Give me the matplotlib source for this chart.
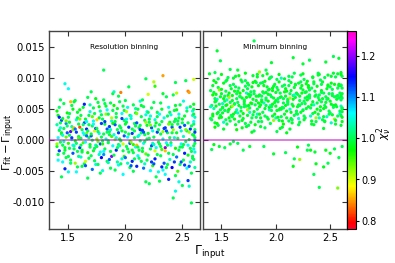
import numpy as np
import matplotlib
matplotlib.use('Agg')
import matplotlib.pyplot as plt

# Resolution binning: x in units of 0.01, dy in units of 1e-4, chi2 in units of 0.01
res_x = [
    143, 141, 144, 140, 142, 144, 141, 143, 140, 142, 141, 144, 140, 143, 142, 140, 143, 141, 144, 142,
    147, 150, 145, 148, 146, 146, 148, 145, 149, 147, 148, 145, 147, 149, 146, 149, 147, 145, 148, 146,
    154, 150, 153, 152, 151, 153, 150, 151, 154, 152, 150, 153, 151, 152, 154, 151, 154, 153, 150, 152,
    156, 158, 157, 159, 155, 157, 159, 156, 155, 158, 159, 156, 158, 155, 157, 158, 156, 157, 159, 155,
    163, 161, 164, 160, 162, 164, 161, 163, 160, 162, 161, 164, 160, 163, 162, 160, 163, 161, 164, 162,
    167, 169, 165, 168, 166, 166, 168, 165, 169, 167, 168, 165, 167, 169, 166, 169, 167, 165, 168, 166,
    174, 170, 173, 172, 171, 173, 170, 171, 174, 172, 170, 173, 171, 172, 174, 171, 174, 173, 170, 172,
    176, 178, 177, 179, 175, 177, 179, 176, 175, 178, 179, 176, 178, 175, 177, 178, 176, 177, 179, 175,
    181, 181, 184, 180, 182, 184, 181, 183, 180, 182, 181, 184, 180, 183, 182, 180, 183, 181, 184, 182,
    187, 189, 185, 188, 186, 186, 188, 185, 189, 187, 188, 185, 187, 189, 186, 189, 187, 185, 188, 186,
    194, 190, 193, 192, 191, 193, 190, 191, 194, 192, 190, 193, 191, 192, 194, 191, 194, 193, 190, 192,
    196, 198, 197, 199, 195, 197, 199, 196, 195, 198, 199, 196, 198, 195, 197, 198, 196, 197, 199, 195,
    200, 202, 204, 201, 203, 200, 202, 204, 201, 203, 200, 202, 204, 201, 203, 202, 200, 204, 201, 203,
    207, 209, 205, 208, 206, 206, 208, 205, 209, 207, 208, 205, 207, 209, 206, 209, 207, 205, 208, 206,
    213, 211, 214, 210, 212, 214, 211, 213, 210, 212, 211, 214, 210, 213, 212, 210, 213, 211, 214, 212,
    216, 218, 217, 219, 215, 217, 219, 216, 215, 218, 219, 216, 218, 215, 217, 218, 216, 217, 219, 215,
    218, 220, 223, 222, 221, 223, 220, 221, 224, 222, 220, 223, 221, 222, 224, 221, 224, 223, 220, 222,
    225, 226, 225, 228, 226, 226, 228, 225, 229, 227, 228, 225, 227, 229, 226, 229, 227, 225, 228, 226,
    233, 231, 233, 230, 232, 234, 231, 233, 230, 232, 231, 234, 230, 233, 232, 230, 233, 231, 234, 232,
    236, 238, 237, 239, 235, 237, 239, 236, 235, 238, 239, 236, 238, 235, 237, 238, 236, 237, 239, 235,
    242, 244, 240, 243, 241, 241, 243, 240, 244, 242, 243, 242, 244, 244, 241, 244, 242, 240, 243, 241,
    244, 245, 248, 247, 246, 248, 245, 246, 249, 247, 245, 248, 246, 247, 249, 246, 249, 248, 245, 247,
    253, 251, 254, 250, 252, 254, 251, 253, 250, 252, 251, 254, 250, 256, 252, 250, 253, 251, 254, 252,
    255, 256, 257, 259, 255, 257, 259, 256, 255, 258, 259, 256, 258, 255, 257, 258, 256, 257, 259, 255,
    260, 260, 261, 260, 261, 260, 261, 260, 261, 260, 258, 261, 260, 261, 260, 261, 259, 260, 261, 260,
]
res_dy = [
    64, 39, 31, 24, 15, 9, 3, -4, -11, -18, -24, -60, 46, 19, 52, -7, 27, -33, 11, 36,
    90, 82, 34, 26, 18, -3, 4, -9, 11, -17, -29, -36, -47, 43, 58, 22, -13, 7, 30, -22,
    49, 36, 21, 13, 7, 0, -6, -14, -22, -33, -52, 55, 28, -38, 16, 42, -9, 3, -27, 61,
    63, 44, 32, 25, 19, 12, 5, -2, -10, -19, -27, -38, -44, 61, -52, 35, 17, -6, 2, -15,
    52, 39, 27, 20, 16, 8, 2, -5, -13, -20, -28, -39, 48, 11, -43, 33, 24, -9, 57, -17,
    68, 45, 33, 24, 17, 10, 3, -4, -12, -21, -30, -42, -62, 56, 29, -8, 14, -35, 39, 6,
    66, 77, 42, 30, 22, 14, 6, -1, -9, -18, -26, -34, -48, 51, -40, 37, 18, -14, 9, 25,
    60, 46, 35, 26, 18, 10, 4, -3, -11, -20, -29, -40, -54, 32, 53, -7, 13, -24, 40, 1,
    112, 64, 48, 33, 25, 17, 9, 1, -7, -15, -24, -35, -50, 54, 29, -2, 41, -19, 12, 58,
    59, 74, 41, 30, 21, 13, 5, -2, -10, -19, -27, -37, -46, 26, -32, 47, 16, -5, 35, 8,
    70, 77, 50, 36, 24, 16, 8, 0, -8, -17, -25, -36, -49, 42, -41, 29, 11, -13, 55, 3,
    76, 54, 42, 31, 22, 14, 6, -2, -10, -18, -27, -39, -56, 61, 34, -7, 19, -31, 47, 1,
    63, 52, 39, 28, 20, 12, 4, -3, -11, -20, -29, -38, -45, 45, 85, -15, 25, -6, 33, 9,
    56, 43, 34, 26, 17, 10, 3, -4, -12, -21, -31, -42, -51, 50, -35, 22, -8, 38, 14, -17,
    62, 49, 37, 27, 19, 11, 5, -2, -9, -17, -26, -35, -43, 23, -30, 42, 16, -12, 55, 7,
    53, 40, 31, 23, 15, 8, 1, -6, -14, -23, -33, -46, -68, 64, -39, 28, 12, -3, 45, -19,
    98, 73, 51, 38, 28, 19, 10, 2, -6, -15, -25, -36, -71, -50, -42, 33, 14, -10, 44, 23,
    93, 86, 60, 44, 32, 22, 12, 4, -4, -13, -24, -39, -60, -52, -31, 16, 27, -8, 37, -18,
    74, 59, 103, 41, 29, 18, 9, 1, -7, -16, -26, -38, -67, -49, -44, 24, 13, -11, 35, 49,
    69, 52, 38, 28, 19, 11, 3, -5, -13, -22, -32, -45, -64, -56, -40, 25, 14, -9, 44, -18,
    72, 55, 40, 29, 20, 11, 3, -5, -14, -24, -36, -94, -83, -58, -45, 33, 16, -9, 47, 24,
    92, 75, 56, 41, 30, 20, 11, 2, -7, -17, -28, -40, -51, -68, -36, 25, 14, -12, 48, 35,
    95, 62, 46, 33, 23, 14, 5, -3, -12, -22, -33, -46, -74, -75, -41, 27, 16, -8, 51, 38,
    78, 76, 53, 39, 27, 17, 8, 0, -9, -19, -30, -43, -54, -66, -36, 22, 12, -14, 46, -25,
    97, 49, 36, 25, 16, 7, -1, -10, -20, -32, -102, -45, 57, -6, 29, 12, -27, 41, 3, -15,
]
res_chi = [
    100, 98, 112, 103, 100, 95, 106, 100, 99, 113, 100, 100, 97, 105, 101, 92, 100, 106, 99, 114,
    105, 106, 99, 110, 100, 104, 94, 100, 112, 99, 100, 106, 114, 97, 100, 101, 99, 105, 93, 100,
    98, 100, 103, 118, 100, 105, 96, 100, 112, 100, 105, 100, 99, 101, 93, 100, 106, 113, 100, 86,
    100, 99, 105, 100, 86, 113, 100, 97, 104, 100, 102, 92, 100, 99, 106, 100, 111, 101, 95, 100,
    99, 100, 112, 82, 100, 105, 100, 95, 113, 100, 104, 100, 98, 106, 100, 93, 101, 100, 114, 99,
    100, 105, 99, 100, 114, 93, 100, 106, 100, 97, 100, 112, 100, 103, 106, 99, 100, 90, 100, 111,
    98, 100, 100, 106, 100, 90, 112, 100, 104, 99, 100, 100, 111, 100, 105, 94, 113, 100, 99, 106,
    100, 103, 99, 113, 100, 105, 100, 94, 100, 106, 115, 100, 100, 87, 98, 112, 100, 104, 100, 93,
    100, 100, 106, 100, 99, 112, 100, 104, 96, 100, 110, 100, 105, 99, 113, 100, 92, 106, 100, 100,
    100, 99, 100, 105, 113, 100, 95, 100, 106, 100, 120, 103, 100, 97, 112, 100, 104, 100, 91, 100,
    100, 104, 99, 100, 112, 100, 105, 92, 100, 114, 100, 103, 100, 100, 106, 99, 113, 100, 97, 105,
    84, 100, 106, 100, 100, 99, 112, 100, 104, 100, 96, 100, 106, 100, 113, 90, 100, 105, 100, 99,
    100, 105, 100, 99, 113, 100, 106, 95, 100, 100, 111, 104, 100, 91, 100, 100, 99, 112, 106, 100,
    100, 99, 104, 100, 100, 113, 100, 93, 106, 100, 100, 112, 100, 103, 114, 100, 96, 105, 100, 99,
    105, 100, 100, 112, 99, 100, 104, 100, 86, 100, 106, 100, 114, 100, 101, 93, 113, 100, 99, 105,
    100, 105, 100, 99, 113, 100, 100, 106, 100, 94, 100, 111, 100, 100, 104, 92, 112, 100, 106, 99,
    100, 90, 100, 105, 100, 112, 99, 100, 104, 100, 100, 113, 100, 106, 96, 100, 105, 112, 100, 93,
    91, 96, 100, 100, 105, 100, 113, 100, 99, 106, 100, 112, 100, 105, 114, 100, 98, 104, 100, 90,
    99, 100, 85, 106, 100, 113, 100, 104, 100, 95, 100, 112, 100, 106, 114, 100, 92, 100, 105, 99,
    100, 105, 100, 99, 113, 100, 100, 106, 120, 100, 104, 100, 114, 106, 100, 93, 112, 100, 100, 86,
    100, 99, 105, 100, 112, 100, 104, 100, 97, 100, 113, 100, 105, 100, 115, 100, 92, 106, 100, 99,
    100, 91, 100, 105, 100, 113, 99, 100, 106, 100, 111, 100, 95, 105, 112, 100, 104, 100, 98, 100,
    100, 105, 100, 99, 112, 100, 104, 100, 100, 114, 100, 106, 100, 104, 113, 100, 93, 100, 105, 99,
    84, 85, 100, 105, 100, 113, 100, 99, 106, 100, 100, 112, 100, 113, 104, 100, 92, 100, 106, 98,
    90, 100, 104, 100, 100, 99, 112, 100, 105, 100, 100, 103, 98, 100, 106, 113, 100, 99, 100, 105,
]

# Minimum binning
min_x = [
    139, 144, 143, 140, 142, 144, 141, 143, 142, 140, 144, 141, 143, 142, 144, 140, 142, 143, 141, 144,
    146, 149, 145, 147, 149, 146, 148, 145, 147, 149, 146, 148, 147, 145, 149, 146, 148, 147, 145, 148,
    152, 154, 150, 153, 151, 151, 153, 150, 154, 152, 153, 150, 152, 154, 151, 154, 152, 150, 153, 151,
    158, 155, 158, 157, 156, 158, 155, 156, 159, 157, 155, 158, 156, 157, 159, 156, 159, 158, 155, 157,
    161, 163, 162, 164, 160, 162, 164, 161, 160, 163, 164, 161, 163, 160, 162, 163, 161, 162, 164, 160,
    165, 166, 169, 165, 167, 169, 166, 168, 165, 167, 166, 169, 165, 168, 167, 165, 168, 166, 169, 167,
    172, 174, 170, 173, 171, 171, 173, 170, 174, 172, 173, 170, 172, 174, 171, 174, 172, 170, 173, 171,
    179, 175, 178, 177, 176, 178, 175, 176, 179, 177, 175, 178, 176, 177, 179, 176, 179, 178, 175, 177,
    180, 183, 182, 184, 180, 182, 184, 181, 180, 183, 184, 181, 183, 180, 182, 183, 181, 182, 184, 180,
    188, 186, 189, 185, 187, 189, 186, 188, 185, 187, 186, 189, 185, 188, 187, 185, 188, 186, 189, 187,
    191, 194, 190, 193, 191, 191, 193, 190, 194, 192, 193, 190, 192, 194, 191, 194, 192, 190, 193, 191,
    196, 195, 198, 197, 196, 198, 195, 196, 199, 197, 195, 198, 196, 197, 199, 196, 199, 198, 195, 197,
    201, 203, 202, 204, 200, 202, 204, 201, 200, 203, 204, 201, 203, 200, 202, 203, 201, 202, 204, 200,
    208, 206, 209, 205, 207, 209, 206, 208, 205, 207, 206, 209, 205, 208, 207, 205, 208, 206, 209, 207,
    212, 214, 210, 213, 211, 211, 213, 210, 214, 212, 213, 210, 212, 214, 211, 214, 212, 210, 213, 211,
    216, 215, 218, 217, 216, 218, 215, 216, 219, 217, 215, 217, 216, 217, 219, 216, 219, 218, 215, 217,
    223, 221, 224, 220, 222, 224, 221, 223, 220, 222, 221, 222, 220, 223, 222, 220, 223, 221, 224, 222,
    225, 226, 229, 225, 227, 229, 226, 228, 225, 227, 226, 229, 225, 228, 227, 225, 228, 226, 229, 227,
    231, 234, 230, 233, 231, 231, 233, 230, 234, 232, 233, 230, 232, 234, 231, 234, 232, 230, 233, 231,
    239, 235, 238, 237, 236, 238, 235, 236, 239, 237, 235, 235, 237, 236, 239, 236, 239, 238, 235, 237,
    241, 243, 242, 244, 240, 242, 244, 241, 240, 243, 244, 240, 244, 240, 242, 243, 241, 242, 244, 240,
    246, 245, 248, 247, 246, 248, 245, 246, 249, 247, 245, 248, 246, 248, 249, 246, 249, 248, 245, 247,
    253, 251, 254, 250, 252, 254, 251, 253, 250, 252, 251, 254, 250, 253, 252, 250, 253, 251, 254, 252,
    258, 255, 258, 257, 256, 258, 255, 256, 259, 257, 255, 258, 257, 257, 259, 256, 259, 258, 255, 257,
    260, 261, 260, 261, 260, 261, 260, 261, 260, 261, 260, 261, 260, 261, 260, 261, 260, 261, 260, 261,
]
min_dy = [
    106, 108, 95, 79, 72, 61, 55, 50, 41, 34, 27, -16, -8, 87, 66, 53, 38, 76, 32, 20,
    143, 127, 92, 84, 69, 65, 57, 54, 44, 39, 26, -11, 98, 73, 48, 42, 80, 23, 62, 35,
    91, 78, 74, 70, 58, 51, 47, 36, 32, 17, -13, 105, 66, 55, 43, 94, 28, 81, 62, 52,
    113, 96, 87, 75, 71, 60, 56, 45, 39, 35, 25, -7, 100, 68, 53, 47, 82, 30, 64, 49,
    99, 85, 78, 74, 63, 58, 48, 41, 37, 24, 16, -3, 102, 71, 57, 44, 89, 33, 66, 54,
    112, 103, 93, 78, 70, 67, 55, 52, 43, 38, 29, 19, -6, 96, 75, 60, 46, 83, 31, 69,
    95, 91, 79, 75, 64, 57, 54, 42, 39, 26, 21, -17, 107, 82, 61, 48, 86, 34, 68, 53,
    103, 88, 85, 72, 69, 58, 55, 44, 40, 28, 23, 12, -11, 77, 65, 51, 92, 35, 73, 59,
    159, 105, 92, 87, 74, 70, 59, 56, 45, 41, 29, 24, 101, 78, 63, 49, 94, 36, 70, 14,
    103, 91, 87, 72, 70, 59, 56, 44, 41, 29, 21, -11, 109, 77, 64, 53, 92, 35, 75, 61,
    112, 98, 94, 80, 76, 64, 62, 50, 48, 36, 33, 19, 106, 81, 67, 52, 85, 38, 73, 55,
    124, 100, 86, 83, 69, 67, 55, 53, 41, 38, 26, -23, 101, 79, 60, 47, 89, 31, 72, 57,
    97, 93, 80, 75, 63, 61, 50, 47, 35, 31, 18, 13, 105, 76, 66, 48, 84, 36, 68, 54,
    98, 86, 82, 69, 66, 55, 52, 41, 37, 25, 20, -21, 99, 77, 59, 49, 88, 30, 70, 51,
    95, 92, 78, 74, 62, 60, 49, 46, 34, 30, 17, 11, 102, 79, 65, 44, 87, 35, 67, 57,
    132, 101, 88, 84, 71, 68, 57, 54, 42, 39, 27, -31, -43, 107, 75, 65, 46, 89, 32, 72,
    104, 91, 87, 73, 70, 58, 56, 44, 41, 28, 24, -32, -12, 83, 63, 53, 93, 34, 75, 55,
    122, 97, 94, 80, 76, 64, 62, 50, 48, 35, 32, -17, 106, 77, 67, 47, 90, 38, 69, 58,
    128, 101, 87, 83, 70, 67, 56, 53, 42, 38, 25, -9, -17, 100, 80, 61, 51, 84, 30, 72,
    104, 90, 86, 72, 70, 59, 56, 44, 41, 29, 24, -56, -39, -20, 107, 78, 68, 49, 93, 35,
    96, 93, 79, 75, 64, 61, 50, 47, 35, 32, 18, -77, -44, 105, 76, 66, 53, 89, 37, 72,
    125, 100, 86, 82, 69, 66, 55, 52, 41, 37, 29, -38, -17, 104, 74, 60, 46, 88, 30, 65,
    134, 102, 89, 85, 71, 69, 57, 55, 43, 40, 27, -15, -22, 107, 81, 62, 52, 91, 33, 74,
    131, 101, 87, 83, 70, 67, 56, 53, 42, 38, 25, -29, -78, 106, 75, 65, 46, 89, 31, 71,
    108, 102, 87, 83, 69, 67, 54, 51, 39, 36, 23, -11, 105, 74, 64, 45, 88, 29, 71, 50,
]
min_chi = [
    99, 100, 98, 100, 97, 99, 100, 103, 98, 100, 99, 100, 98, 99, 100, 104, 98, 99, 100, 97,
    99, 100, 98, 100, 99, 104, 100, 98, 99, 100, 97, 99, 100, 98, 100, 99, 92, 100, 99, 98,
    98, 100, 99, 100, 104, 99, 100, 98, 100, 99, 100, 98, 97, 100, 99, 100, 104, 98, 100, 99,
    100, 99, 100, 98, 99, 100, 97, 99, 100, 98, 100, 99, 100, 92, 98, 100, 99, 100, 104, 98,
    99, 100, 98, 100, 99, 100, 104, 98, 100, 99, 97, 100, 99, 98, 100, 99, 100, 98, 100, 92,
    99, 98, 100, 99, 100, 98, 99, 100, 104, 99, 100, 98, 100, 99, 97, 100, 99, 100, 98, 100,
    100, 99, 98, 104, 100, 99, 100, 98, 99, 100, 99, 100, 98, 100, 99, 92, 100, 99, 98, 100,
    99, 100, 98, 100, 99, 100, 98, 104, 100, 99, 100, 98, 99, 100, 99, 100, 98, 100, 99, 97,
    100, 99, 100, 98, 100, 99, 98, 100, 99, 104, 100, 98, 99, 100, 99, 100, 98, 100, 99, 100,
    99, 100, 98, 99, 100, 104, 99, 100, 98, 100, 99, 100, 92, 99, 100, 98, 100, 99, 100, 98,
    100, 99, 98, 100, 99, 100, 98, 99, 104, 100, 99, 100, 98, 99, 100, 97, 99, 100, 98, 100,
    99, 100, 99, 98, 100, 99, 104, 100, 98, 99, 100, 99, 100, 98, 99, 100, 99, 92, 100, 98,
    100, 98, 99, 100, 99, 100, 98, 99, 104, 100, 99, 100, 98, 99, 100, 99, 100, 98, 100, 99,
    99, 100, 98, 99, 100, 98, 100, 99, 100, 97, 99, 100, 104, 98, 100, 99, 100, 98, 99, 100,
    100, 99, 98, 100, 99, 100, 104, 98, 99, 100, 99, 98, 100, 99, 100, 98, 100, 99, 92, 100,
    99, 100, 98, 99, 100, 99, 100, 98, 99, 100, 99, 100, 98, 100, 99, 98, 100, 99, 100, 104,
    100, 99, 98, 100, 99, 100, 98, 99, 100, 99, 100, 92, 98, 99, 100, 99, 100, 104, 98, 100,
    99, 100, 98, 99, 100, 98, 100, 99, 104, 100, 99, 100, 98, 99, 100, 99, 98, 100, 99, 100,
    100, 99, 98, 100, 99, 100, 98, 99, 100, 104, 99, 100, 98, 99, 100, 99, 100, 98, 99, 100,
    99, 100, 98, 100, 99, 100, 104, 98, 99, 100, 99, 100, 98, 99, 100, 99, 100, 98, 99, 92,
    100, 99, 98, 100, 99, 100, 98, 99, 104, 100, 99, 100, 98, 99, 100, 99, 98, 100, 99, 100,
    99, 100, 98, 99, 100, 98, 100, 99, 100, 104, 99, 100, 98, 99, 100, 99, 100, 98, 99, 100,
    100, 99, 98, 100, 99, 100, 98, 99, 100, 99, 104, 100, 98, 99, 100, 99, 100, 98, 92, 100,
    99, 100, 98, 100, 99, 100, 98, 99, 104, 100, 99, 100, 93, 99, 100, 99, 100, 98, 99, 100,
    99, 100, 98, 100, 99, 100, 104, 99, 100, 98, 99, 100, 98, 99, 100, 99, 100, 98, 99, 100,
]

panel_titles = ['Resolution binning', 'Minimum binning']
chi_ticks = [0.8, 0.9, 1.0, 1.1, 1.2]
x_ticks = [1.5, 2.0, 2.5]
y_ticks = [-0.010, -0.005, 0.000, 0.005, 0.010, 0.015]

W, H = 395, 263
fig = plt.figure(figsize=(W / 100, H / 100), dpi=100)
bot, hgt = 1 - 229 / H, 198 / H
ax1 = fig.add_axes([49 / W, bot, 151 / W, hgt])
ax2 = fig.add_axes([203 / W, bot, 144 / W, hgt])
cax = fig.add_axes([347 / W, bot, 9 / W, hgt])

panels = [
    (ax1, np.array(res_x) / 100, np.array(res_dy) * 1e-4, np.array(res_chi) / 100),
    (ax2, np.array(min_x) / 100, np.array(min_dy) * 1e-4, np.array(min_chi) / 100),
]

for (ax, x, y, c), title in zip(panels, panel_titles):
    sc = ax.scatter(x, y, c=c, cmap='gist_rainbow', vmin=0.78, vmax=1.26,
                    s=5.5, linewidths=0, zorder=2)
    ax.axhline(0, color='m', alpha=0.55, lw=1.3, zorder=3)
    ax.set_xlim(1.33, 2.655)
    ax.set_ylim(-0.0144, 0.0175)
    ax.set_xticks(x_ticks)
    ax.set_yticks(y_ticks)
    ax.tick_params(direction='in', top=True, right=True, labelsize=7.2,
                   length=3.5, width=0.8, color='#333333', pad=3)
    for sp in ax.spines.values():
        sp.set_color('#444444')
        sp.set_linewidth(1.0)
    ax.text(0.5, 0.92, title, transform=ax.transAxes, ha='center', va='center',
            fontsize=5.3)

ax2.tick_params(labelleft=False)
ax1.yaxis.set_major_formatter(plt.FormatStrFormatter('%.3f'))
fig.text(1 / W, 1 - 142 / H, r'$\Gamma_{\rm fit} - \Gamma_{\rm input}$',
         rotation=90, ha='left', va='center', fontsize=8.2)
fig.text(210 / W, 1 - 252 / H, r'$\Gamma_{\rm input}$', ha='center', va='center', fontsize=9)

cb = fig.colorbar(sc, cax=cax, ticks=chi_ticks)
cb.outline.set_linewidth(0.8)
cb.ax.tick_params(labelsize=7.0, length=2.5, width=0.8, direction='out', pad=1.2)
fig.text(394.5 / W, 1 - 133 / H, r'$\chi^2_\nu$', rotation=90, ha='right', va='center',
         fontsize=7.8)

fig.savefig('out.png', dpi=100)
